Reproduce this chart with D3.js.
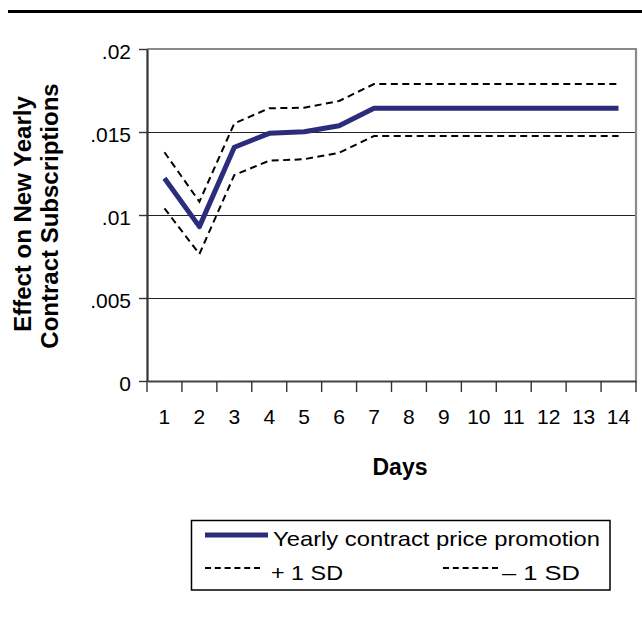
<!DOCTYPE html>
<html>
<head>
<meta charset="utf-8">
<script src="https://cdn.jsdelivr.net/npm/d3@7"></script>
<style>
  html, body { margin: 0; padding: 0; background: #fff; }
  svg { display: block; }
  text { font-family: "Liberation Sans", Arial, Helvetica, sans-serif; fill: #000; }
</style>
</head>
<body>
<svg id="chart" width="642" height="617"></svg>
<script>
const days = [1, 2, 3, 4, 5, 6, 7, 8, 9, 10, 11, 12, 13, 14];
const promotion = [0.01221, 0.00930, 0.01408, 0.01492, 0.01502, 0.01538, 0.01643, 0.01643, 0.01643, 0.01643, 0.01643, 0.01643, 0.01643, 0.01643];
const plusSD = [0.01378, 0.01080, 0.01552, 0.01643, 0.01646, 0.01687, 0.01789, 0.01789, 0.01789, 0.01789, 0.01789, 0.01789, 0.01789, 0.01789];
const minusSD = [0.01040, 0.00765, 0.01241, 0.01327, 0.01336, 0.01375, 0.01476, 0.01476, 0.01476, 0.01476, 0.01476, 0.01476, 0.01476, 0.01476];
const yTicks = [0, 0.005, 0.01, 0.015, 0.02];
const yTickLabels = ["0", ".005", ".01", ".015", ".02"];
const yTitle = ["Effect on New Yearly", "Contract Subscriptions"];
const xTitle = "Days";
const legendLabels = ["Yearly contract price promotion", "+ 1 SD", "\u2013 1 SD"];

const svg = d3.select("#chart");
const L = 147, R = 636, T = 49, B = 381;
const x = d3.scaleBand().domain(days).range([L, R]).padding(0);
const y = d3.scaleLinear().domain([0, 0.02]).range([B, T]);
const cx = d => x(d) + x.bandwidth() / 2;
const FF = "'Liberation Sans', Arial, Helvetica, sans-serif";

// top rule
svg.append("line").attr("x1", 8).attr("x2", 642).attr("y1", 11.5).attr("y2", 11.5)
  .attr("stroke", "#000").attr("stroke-width", 3);

// gridlines
svg.append("g").selectAll("line").data(yTicks.filter(v => v > 0 && v < 0.02)).join("line")
  .attr("x1", L).attr("x2", R).attr("y1", d => Math.round(y(d)) + 0.5).attr("y2", d => Math.round(y(d)) + 0.5)
  .attr("stroke", "#222").attr("stroke-width", 1.2);

// plot border top & right
svg.append("path")
  .attr("d", `M${L},${T} H${R} V${B}`)
  .attr("fill", "none").attr("stroke", "#8a8a8a").attr("stroke-width", 2.2);

// y axis
const yAxis = svg.append("g").attr("transform", `translate(${L},0)`)
  .call(d3.axisLeft(y).tickValues(yTicks).tickSize(8).tickSizeOuter(0)
    .tickFormat((d, i) => yTickLabels[i]));
yAxis.select(".domain").attr("stroke", "#333").attr("stroke-width", 2.2);
yAxis.selectAll(".tick line").attr("stroke", "#333").attr("stroke-width", 1.4);
yAxis.selectAll(".tick text").attr("x", -16).attr("dy", "0.45em")
  .style("font-size", "21px").style("font-family", FF).attr("fill", "#000");

// x axis
const xAxis = svg.append("g").attr("transform", `translate(0,${B})`)
  .call(d3.axisBottom(x).tickSize(0).tickPadding(43));
xAxis.select(".domain").attr("stroke", "#444").attr("stroke-width", 2.2);
xAxis.selectAll(".tick text").style("font-size", "21px")
  .style("font-family", FF).attr("fill", "#000").attr("dy", "0");
// boundary ticks
const bounds = days.map(d => x(d)).concat([R]);
xAxis.append("g").selectAll("line").data(bounds).join("line")
  .attr("x1", d => d).attr("x2", d => d).attr("y1", 0).attr("y2", 11)
  .attr("stroke", "#333").attr("stroke-width", 1.4);

// lines
const lineGen = vals => d3.line().x((d, i) => cx(days[i])).y(d => y(d))(vals);
svg.append("path").attr("d", lineGen(plusSD)).attr("fill", "none")
  .attr("stroke", "#000").attr("stroke-width", 2).attr("stroke-dasharray", "7,4.5");
svg.append("path").attr("d", lineGen(minusSD)).attr("fill", "none")
  .attr("stroke", "#000").attr("stroke-width", 2).attr("stroke-dasharray", "7,4.5");
svg.append("path").attr("d", lineGen(promotion)).attr("fill", "none")
  .attr("stroke", "#2b2c7c").attr("stroke-width", 5).attr("stroke-linejoin", "round");

// axis titles
const yt = svg.append("text").attr("transform", "rotate(-90)")
  .attr("text-anchor", "middle").style("font-weight", "bold").style("font-size", "24px");
yt.append("tspan").attr("x", -214).attr("y", 31).text(yTitle[0]);
yt.append("tspan").attr("x", -216).attr("y", 58).text(yTitle[1]);

svg.append("text").attr("x", 400).attr("y", 475).attr("text-anchor", "middle")
  .style("font-weight", "bold").style("font-size", "23px").text(xTitle);

// legend
const lg = svg.append("g");
lg.append("rect").attr("x", 191.5).attr("y", 520.5).attr("width", 418.5).attr("height", 69.5)
  .attr("fill", "none").attr("stroke", "#000").attr("stroke-width", 1.5);
lg.append("line").attr("x1", 205).attr("x2", 268).attr("y1", 535).attr("y2", 535)
  .attr("stroke", "#2b2c7c").attr("stroke-width", 5);
lg.append("text").attr("x", 273).attr("y", 546).style("font-size", "21px")
  .attr("textLength", 327).attr("lengthAdjust", "spacingAndGlyphs").text(legendLabels[0]);
lg.append("line").attr("x1", 205).attr("x2", 262).attr("y1", 568).attr("y2", 568)
  .attr("stroke", "#000").attr("stroke-width", 2).attr("stroke-dasharray", "6,3.8");
lg.append("text").attr("x", 271).attr("y", 580).style("font-size", "21px")
  .attr("textLength", 72).attr("lengthAdjust", "spacingAndGlyphs").text(legendLabels[1]);
lg.append("line").attr("x1", 443).attr("x2", 498).attr("y1", 568).attr("y2", 568)
  .attr("stroke", "#000").attr("stroke-width", 2).attr("stroke-dasharray", "6,3.8");
lg.append("text").attr("x", 502).attr("y", 580).style("font-size", "21px")
  .attr("textLength", 78).attr("lengthAdjust", "spacingAndGlyphs").text(legendLabels[2]);
</script>
</body>
</html>
